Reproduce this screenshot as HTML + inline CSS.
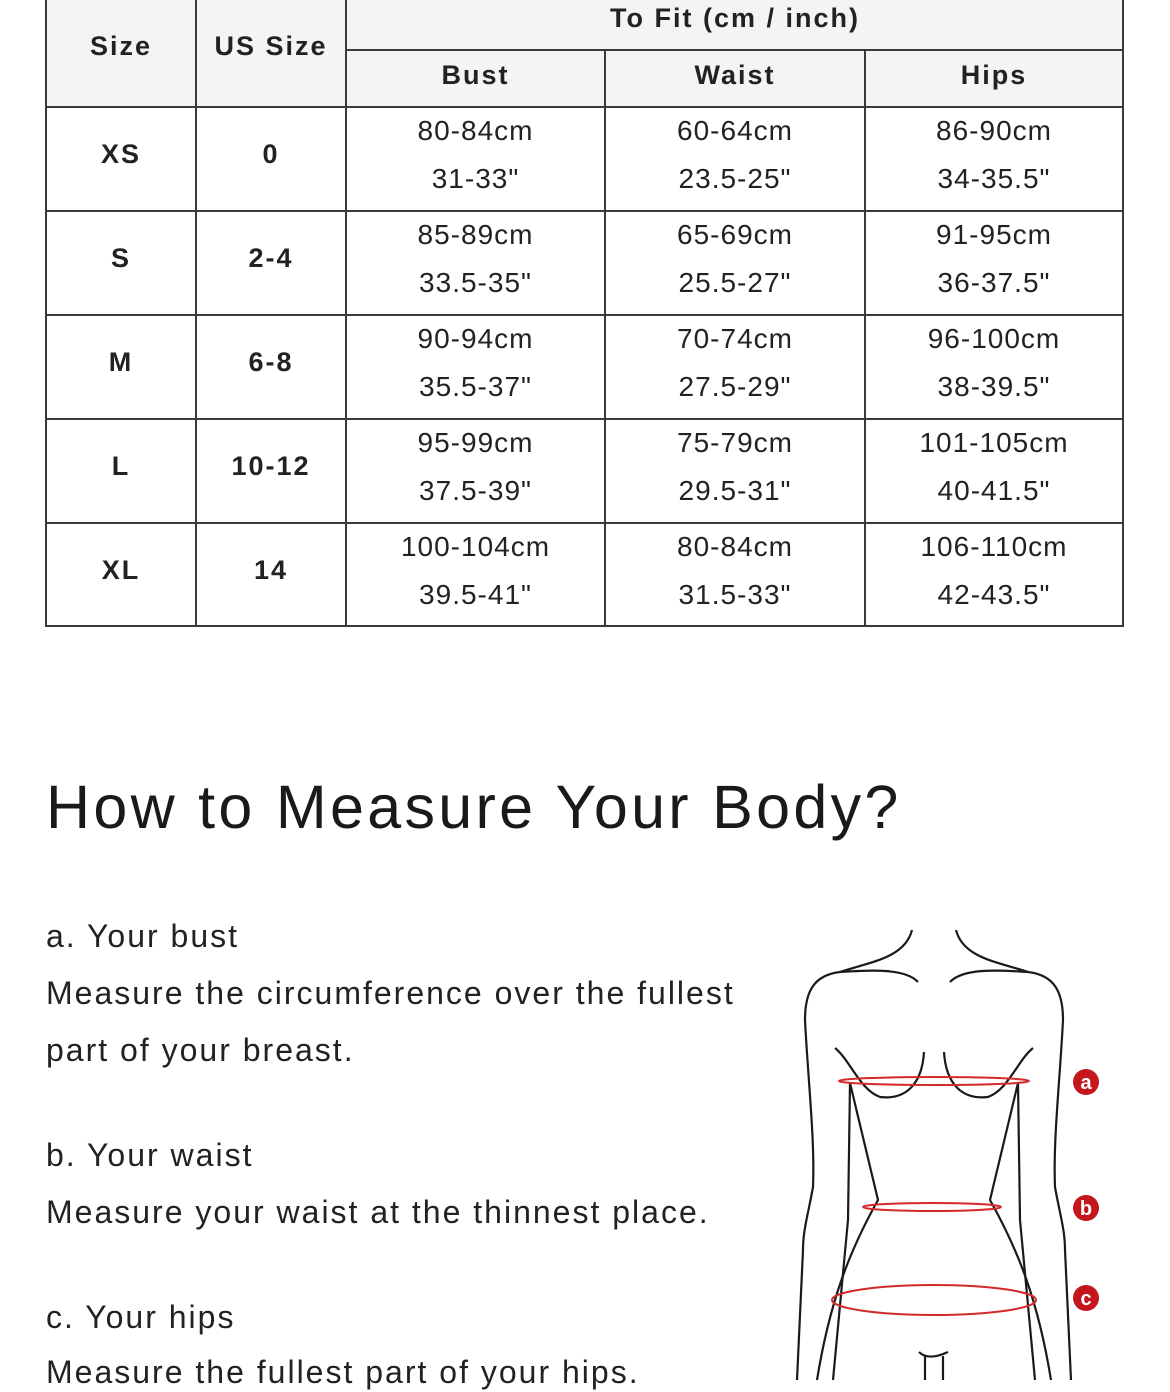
<!DOCTYPE html>
<html><head><meta charset="utf-8"><style>
body{margin:0;width:1170px;height:1385px;overflow:hidden;background:#fff;position:relative;font-family:"Liberation Sans",sans-serif;color:#222}
.v{position:absolute;width:2px;background:#3a3a3a}
.h{position:absolute;height:2px;background:#3a3a3a}
.t{position:absolute;text-align:center;font-size:28px;letter-spacing:1px;line-height:30px}
.b{font-weight:bold;letter-spacing:2px;font-size:27px}
.p{position:absolute;left:46px;font-size:32px;letter-spacing:2px;line-height:40px;white-space:nowrap}
</style></head><body>
<div style="position:absolute;left:46px;top:0;width:1078px;height:107px;background:#f4f4f4"></div>
<div class="v" style="left:45px;top:0;height:627px"></div>
<div class="v" style="left:195px;top:0;height:627px"></div>
<div class="v" style="left:345px;top:0;height:627px"></div>
<div class="v" style="left:604px;top:50px;height:577px"></div>
<div class="v" style="left:864px;top:50px;height:577px"></div>
<div class="v" style="left:1122px;top:0;height:627px"></div>
<div class="h" style="left:346px;top:49px;width:778px"></div>
<div class="h" style="left:46px;top:106px;width:1078px"></div>
<div class="h" style="left:46px;top:210px;width:1078px"></div>
<div class="h" style="left:46px;top:314px;width:1078px"></div>
<div class="h" style="left:46px;top:418px;width:1078px"></div>
<div class="h" style="left:46px;top:522px;width:1078px"></div>
<div class="h" style="left:46px;top:625px;width:1078px"></div>

<div class="t b" style="left:46px;width:150px;top:31px">Size</div>
<div class="t b" style="left:196px;width:150px;top:31px">US Size</div>
<div class="t b" style="left:346px;width:778px;top:3px">To Fit (cm / inch)</div>
<div class="t b" style="left:346px;width:259px;top:60px">Bust</div>
<div class="t b" style="left:605px;width:260px;top:60px">Waist</div>
<div class="t b" style="left:865px;width:258px;top:60px">Hips</div>

<div class="t b" style="left:46px;width:150px;top:139px">XS</div><div class="t b" style="left:196px;width:150px;top:139px">0</div>
<div class="t" style="left:346px;width:259px;top:116px">80-84cm</div><div class="t" style="left:346px;width:259px;top:164px">31-33"</div>
<div class="t" style="left:605px;width:260px;top:116px">60-64cm</div><div class="t" style="left:605px;width:260px;top:164px">23.5-25"</div>
<div class="t" style="left:865px;width:258px;top:116px">86-90cm</div><div class="t" style="left:865px;width:258px;top:164px">34-35.5"</div>

<div class="t b" style="left:46px;width:150px;top:243px">S</div><div class="t b" style="left:196px;width:150px;top:243px">2-4</div>
<div class="t" style="left:346px;width:259px;top:220px">85-89cm</div><div class="t" style="left:346px;width:259px;top:268px">33.5-35"</div>
<div class="t" style="left:605px;width:260px;top:220px">65-69cm</div><div class="t" style="left:605px;width:260px;top:268px">25.5-27"</div>
<div class="t" style="left:865px;width:258px;top:220px">91-95cm</div><div class="t" style="left:865px;width:258px;top:268px">36-37.5"</div>

<div class="t b" style="left:46px;width:150px;top:347px">M</div><div class="t b" style="left:196px;width:150px;top:347px">6-8</div>
<div class="t" style="left:346px;width:259px;top:324px">90-94cm</div><div class="t" style="left:346px;width:259px;top:372px">35.5-37"</div>
<div class="t" style="left:605px;width:260px;top:324px">70-74cm</div><div class="t" style="left:605px;width:260px;top:372px">27.5-29"</div>
<div class="t" style="left:865px;width:258px;top:324px">96-100cm</div><div class="t" style="left:865px;width:258px;top:372px">38-39.5"</div>

<div class="t b" style="left:46px;width:150px;top:451px">L</div><div class="t b" style="left:196px;width:150px;top:451px">10-12</div>
<div class="t" style="left:346px;width:259px;top:428px">95-99cm</div><div class="t" style="left:346px;width:259px;top:476px">37.5-39"</div>
<div class="t" style="left:605px;width:260px;top:428px">75-79cm</div><div class="t" style="left:605px;width:260px;top:476px">29.5-31"</div>
<div class="t" style="left:865px;width:258px;top:428px">101-105cm</div><div class="t" style="left:865px;width:258px;top:476px">40-41.5"</div>

<div class="t b" style="left:46px;width:150px;top:555px">XL</div><div class="t b" style="left:196px;width:150px;top:555px">14</div>
<div class="t" style="left:346px;width:259px;top:532px">100-104cm</div><div class="t" style="left:346px;width:259px;top:580px">39.5-41"</div>
<div class="t" style="left:605px;width:260px;top:532px">80-84cm</div><div class="t" style="left:605px;width:260px;top:580px">31.5-33"</div>
<div class="t" style="left:865px;width:258px;top:532px">106-110cm</div><div class="t" style="left:865px;width:258px;top:580px">42-43.5"</div>

<div style="position:absolute;left:46px;top:772px;font-size:61px;letter-spacing:3.3px;line-height:70px;color:#1a1a1a;white-space:nowrap">How to Measure Your Body?</div>

<div class="p" style="top:916px">a. Your bust</div>
<div class="p" style="top:973px">Measure the circumference over the fullest</div>
<div class="p" style="top:1030px">part of your breast.</div>
<div class="p" style="top:1135px">b. Your waist</div>
<div class="p" style="top:1192px">Measure your waist at the thinnest place.</div>
<div class="p" style="top:1297px">c. Your hips</div>
<div class="p" style="top:1352px">Measure the fullest part of your hips.</div>

<svg style="position:absolute;left:0;top:0" width="1170" height="1385" viewBox="0 0 1170 1385">
<g fill="none" stroke="#1a1a1a" stroke-width="2.2">
<g>
<path d="M912,930 C905,958 870,962 840,972"/>
<path d="M840,972 C870,970 905,968 918,982"/>
<path d="M840,972 C815,975 805,990 805,1020 C808,1080 815,1140 813,1187 C808,1215 803,1230 803,1250 L797,1380"/>
<path d="M850,1083 L848,1220 L833,1380"/>
<path d="M850,1083 L878,1200 C850,1250 830,1300 817,1380"/>
<path d="M835,1048 C850,1060 860,1090 880,1097 C905,1100 922,1085 924,1052"/>
<path d="M919,1352 C925,1358 935,1358 948,1352"/>
<path d="M925,1356 L925,1380 M943,1356 L943,1380"/>
</g>
<g transform="translate(1868,0) scale(-1,1)">
<path d="M912,930 C905,958 870,962 840,972"/>
<path d="M840,972 C870,970 905,968 918,982"/>
<path d="M840,972 C815,975 805,990 805,1020 C808,1080 815,1140 813,1187 C808,1215 803,1230 803,1250 L797,1380"/>
<path d="M850,1083 L848,1220 L833,1380"/>
<path d="M850,1083 L878,1200 C850,1250 830,1300 817,1380"/>
<path d="M835,1048 C850,1060 860,1090 880,1097 C905,1100 922,1085 924,1052"/>
</g>
</g>
<g fill="none" stroke="#d42a2a" stroke-width="2">
<ellipse cx="934" cy="1081" rx="95" ry="4"/>
<ellipse cx="932" cy="1207" rx="69" ry="4"/>
<ellipse cx="934" cy="1300" rx="102" ry="15"/>
</g>
<g font-family="Liberation Sans,sans-serif" font-weight="bold" font-size="20" fill="#fff" text-anchor="middle">
<circle cx="1086" cy="1082" r="13" fill="#c4161c"/><text x="1086" y="1089">a</text>
<circle cx="1086" cy="1208" r="13" fill="#c4161c"/><text x="1086" y="1215">b</text>
<circle cx="1086" cy="1298" r="13" fill="#c4161c"/><text x="1086" y="1305">c</text>
</g>
</svg>
</body></html>
